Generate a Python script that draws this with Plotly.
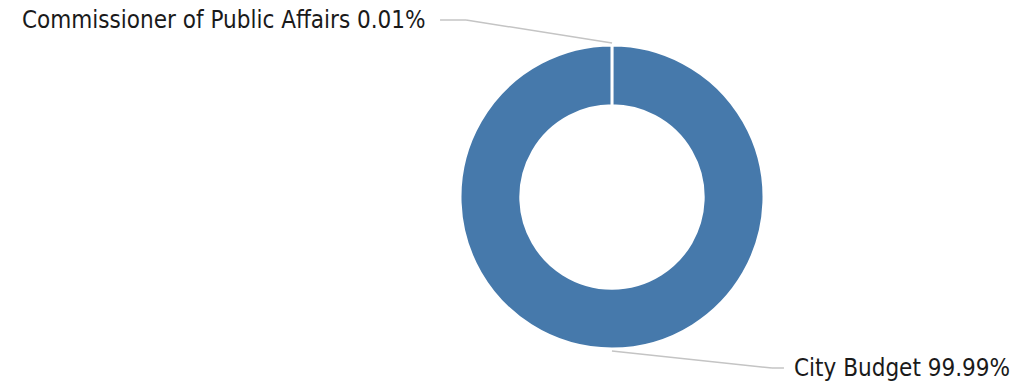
import math
import plotly.graph_objects as go

# ---- data ----
categories = ["Commissioner of Public Affairs", "City Budget"]
values = [0.01, 99.99]
pct_labels = ["0.01%", "99.99%"]

# ---- layout constants (pixels) ----
W, H = 1016, 390
CX, CY, R = 612, 197, 152
HOLE = 0.6
COLOR = "#4679AB"
LINE_COLOR = "#C4C4C4"
FONT = "DejaVu Sans Condensed, Liberation Sans Narrow, sans-serif"
FONT_SIZE = 24

def px(x):
    return x / W

def py(y):
    return 1 - y / H

fig = go.Figure(go.Pie(
    labels=categories,
    values=values,
    hole=HOLE,
    sort=False,
    direction="clockwise",
    rotation=0,
    marker=dict(colors=[COLOR, COLOR], line=dict(color="white", width=3)),
    textinfo="none",
    hoverinfo="label+percent",
    showlegend=False,
    domain=dict(x=[px(CX - R), px(CX + R)], y=[py(CY + R), py(CY - R)]),
))

# leader lines computed from slice mid-angles
total = sum(values)
cum = 0
shapes = []
annotations = []
label_style = [
    dict(elbow_dx=-146, elbow_y=20, end_dx=-172, side="right", gap=12),
    dict(elbow_dx=160, elbow_y=368, end_dx=172, side="left", gap=8),
]
for i, (cat, v) in enumerate(zip(categories, values)):
    mid = (cum + v / 2) / total
    cum += v
    ang = math.radians(90 - 360 * mid)  # clockwise from top
    ax = CX + (R + 2) * math.cos(ang)
    ay = CY - (R + 2) * math.sin(ang)
    st = label_style[i]
    ex, ey = ax + st["elbow_dx"], st["elbow_y"]
    tx = ax + st["end_dx"]
    shapes.append(dict(type="line", xref="paper", yref="paper",
                       x0=px(ax), y0=py(ay), x1=px(ex), y1=py(ey),
                       line=dict(color=LINE_COLOR, width=1.5)))
    shapes.append(dict(type="line", xref="paper", yref="paper",
                       x0=px(ex), y0=py(ey), x1=px(tx), y1=py(ey),
                       line=dict(color=LINE_COLOR, width=1.5)))
    if st["side"] == "right":
        annotations.append(dict(x=px(tx - st["gap"]), y=py(ey), xref="paper", yref="paper",
                                text=f"{cat} {pct_labels[i]}", showarrow=False,
                                xanchor="right", yanchor="middle",
                                font=dict(family=FONT, size=FONT_SIZE, color="#1a1a1a")))
    else:
        annotations.append(dict(x=px(tx + st["gap"]), y=py(ey), xref="paper", yref="paper",
                                text=f"{cat} {pct_labels[i]}", showarrow=False,
                                xanchor="left", yanchor="middle",
                                font=dict(family=FONT, size=FONT_SIZE, color="#1a1a1a")))

fig.update_layout(
    width=W, height=H,
    margin=dict(l=0, r=0, t=0, b=0),
    paper_bgcolor="white",
    plot_bgcolor="white",
    shapes=shapes,
    annotations=annotations,
)

fig.write_html("out.html", config={"displayModeBar": False},
               post_script="document.body.style.margin='0';")
